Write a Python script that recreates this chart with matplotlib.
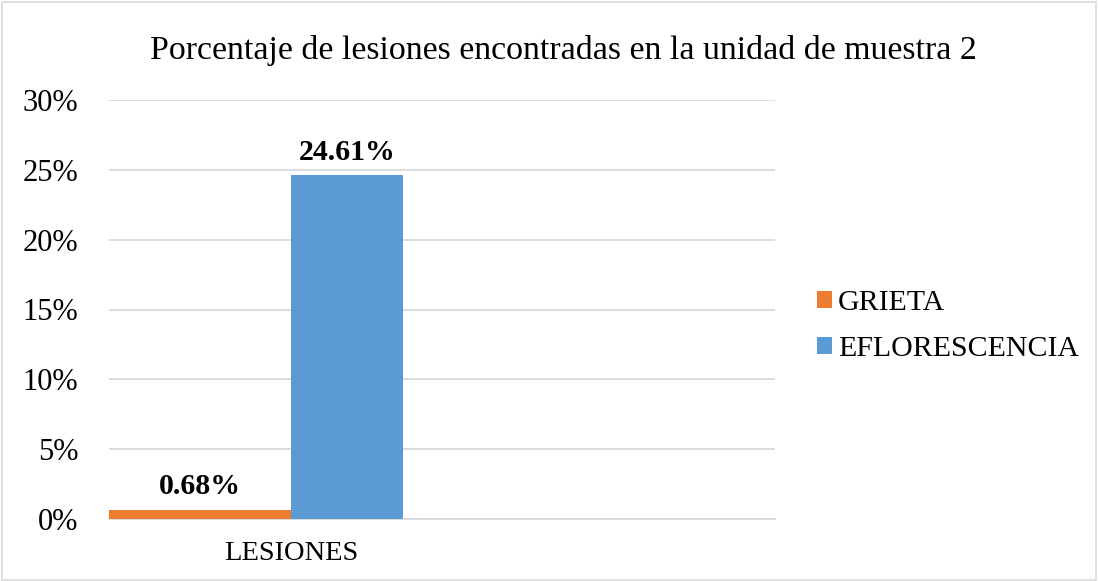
import matplotlib
matplotlib.use("Agg")
import matplotlib.pyplot as plt
from matplotlib.patches import Rectangle
from matplotlib.ticker import FuncFormatter

plt.rcParams['font.family'] = ['Liberation Serif', 'DejaVu Serif']

# data
category = "LESIONES"
series_names = ["GRIETA", "EFLORESCENCIA"]
series_values = [0.68, 24.61]
series_colors = ["#ED7D31", "#5B9BD5"]
y_ticks = [0, 5, 10, 15, 20, 25, 30]

fig = plt.figure(figsize=(10.98, 5.81), dpi=100)
ax = fig.add_axes([109 / 1098, 1 - 519 / 581, (775 - 109) / 1098, (519 - 100) / 581])

# bars sit left/right of the category centre
widths = [-0.57, 0.35]
bars = []
for name, val, col, w in zip(series_names, series_values, series_colors, widths):
    b = ax.bar(0, val, width=w, align='edge', color=col, label=name, zorder=3)
    bars.append(b)
    ax.annotate(f"{val:.2f}%", (w / 2, val), xytext=(0, 7), textcoords='offset points',
                ha='center', va='bottom', fontsize=21.5, fontweight='bold')

ax.set_xlim(-0.57, 1.516)
ax.set_ylim(0, 30)
ax.set_yticks(y_ticks)
ax.yaxis.set_major_formatter(FuncFormatter(lambda v, p: f"{v:.0f}%"))
ax.set_xticks([0])
ax.set_xticklabels([category])
ax.tick_params(axis='y', length=0, labelsize=22, pad=22)
ax.tick_params(axis='x', length=0, labelsize=20.5, pad=16)
ax.grid(axis='y', color='#D9D9D9', linewidth=1.3, zorder=0)
for s in ['top', 'right', 'left']:
    ax.spines[s].set_visible(False)
ax.spines['bottom'].set_color('#D9D9D9')
ax.spines['bottom'].set_linewidth(1.3)

fig.text(563 / 1098, 1 - 51 / 581, "Porcentaje de lesiones encontradas en la unidad de muestra 2",
         ha='center', va='center', fontsize=24.4)

leg = fig.legend(handles=[b[0] for b in bars], labels=series_names,
                 loc='center left', bbox_to_anchor=(790 / 1098, 1 - 326 / 581),
                 frameon=False, fontsize=21.5, handlelength=0.5, handleheight=0.5,
                 handletextpad=0.2, labelspacing=0.65)

fig.patches.append(Rectangle((0.002, 0.002), 0.996, 0.994, transform=fig.transFigure,
                             fill=False, edgecolor='#D9D9D9', linewidth=1.2))

fig.savefig("out.png", dpi=100)
